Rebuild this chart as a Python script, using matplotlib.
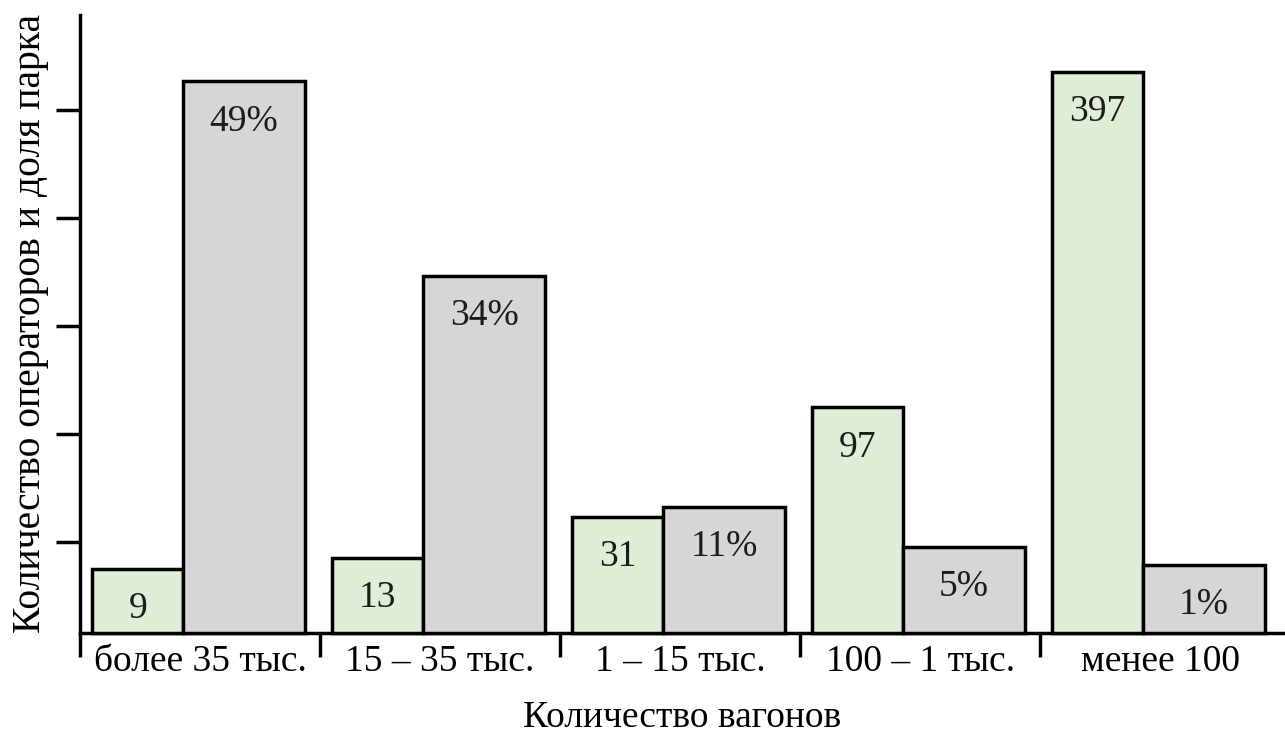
import numpy as np
import matplotlib
matplotlib.use("Agg")
import matplotlib.pyplot as plt

# Data
categories = ["более 35 тыс.", "15 – 35 тыс.", "1 – 15 тыс.", "100 – 1 тыс.", "менее 100"]
operators = [9, 13, 31, 97, 397]          # number of operators
fleet_share = [49, 34, 11, 5, 1]          # share of the wagon fleet, %

plt.rcParams["font.family"] = ["Liberation Serif", "DejaVu Serif"]
plt.rcParams["text.color"] = "#1c1c1c"

GREEN = "#dfeed6"
GREY = "#d6d6d6"
LW = 2.5

fig = plt.figure(figsize=(12.85, 7.35), dpi=100)
ax = fig.add_axes([0.0623, 0.1388, 0.9377, 0.8408])
ax_ops = ax.twinx()
ax_share = ax.twinx()

x = np.arange(len(categories))
ax.set_xlim(-0.5, 4.52)
ax.set_ylim(0, 1)


def power_scale(axis, p, lo, hi):
    """Put a hidden value axis on a signed power scale."""
    fwd = lambda v: np.sign(v) * np.abs(v) ** p
    inv = lambda v: np.sign(v) * np.abs(v) ** (1 / p)
    axis.set_yscale("function", functions=(fwd, inv))
    axis.set_ylim(lo, hi)


# each series on its own hidden value axis
power_scale(ax_ops, 0.7, -5.34, 459)
power_scale(ax_share, 1.4, -11.8, 53.7)


def draw(axis, values, offset, width, color, fmt):
    base = axis.get_ylim()[0]
    vals = np.asarray(values, dtype=float)
    bars = axis.bar(x + offset, vals - base, bottom=base, width=width,
                    color=color, edgecolor="black", linewidth=LW, clip_on=False)
    for b, v in zip(bars, vals):
        axis.annotate(fmt.format(v), (b.get_x() + b.get_width() / 2, v),
                      xytext=(0, -40), textcoords="offset pixels",
                      ha="center", va="center", fontsize=27)


draw(ax_ops, operators, -0.26, 0.38, GREEN, "{:.0f}")
draw(ax_share, fleet_share, 0.183, 0.51, GREY, "{:.0f}%")

for a in (ax_ops, ax_share):
    a.set_yticks([])
    a.minorticks_off()
    for s in a.spines.values():
        s.set_visible(False)

# frame
ax.spines["top"].set_visible(False)
ax.spines["right"].set_visible(False)
ax.spines["left"].set_linewidth(LW)
ax.spines["bottom"].set_linewidth(LW)

ax.set_yticks(np.linspace(0.147, 0.846, 5))
ax.set_yticklabels([])
ax.tick_params(axis="y", length=17, width=LW, direction="out")

ax.set_xticks(x)
ax.set_xticklabels(categories, fontsize=27)
ax.tick_params(axis="x", which="major", length=0, pad=8)
ax.set_xticks([-0.5, 0.5, 1.5, 2.5, 3.5], minor=True)
ax.tick_params(axis="x", which="minor", length=17, width=LW, direction="out")

ax.set_xlabel("Количество вагонов", fontsize=27, labelpad=16)
ax.set_ylabel("Количество операторов и доля парка", fontsize=28.5, labelpad=2)

fig.savefig("out.png", dpi=100)
